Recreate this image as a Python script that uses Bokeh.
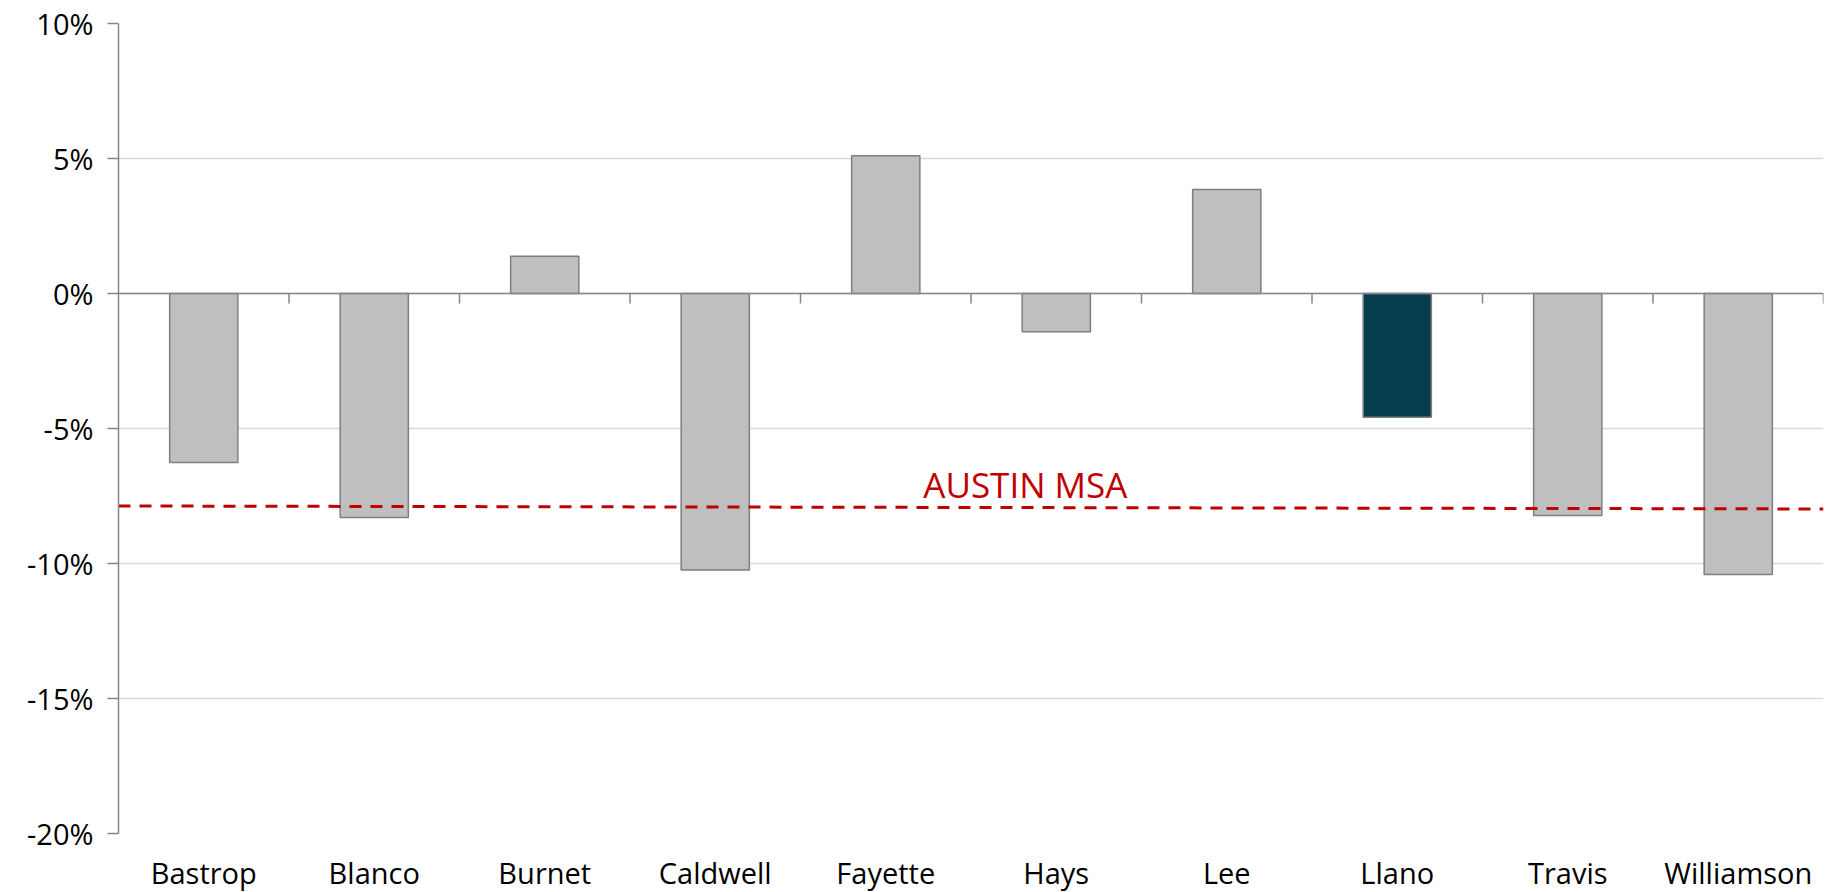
from bokeh.plotting import figure
from bokeh.models import Span, Label, FixedTicker, PrintfTickFormatter, Range1d
from bokeh.embed import file_html
from bokeh.resources import INLINE

# ---- data ----
counties = ["Bastrop", "Blanco", "Burnet", "Caldwell", "Fayette",
            "Hays", "Lee", "Llano", "Travis", "Williamson"]
change_pct = [-6.26, -8.30, 1.38, -10.24, 5.10, -1.42, 3.85, -4.58, -8.22, -10.41]
highlight = "Llano"
msa_label = "AUSTIN MSA"
msa_pct = [-7.87, -7.98]          # reference line, left end -> right end
y_ticks = [-20, -15, -10, -5, 0, 5, 10]

# ---- styles ----
FONT = "Open Sans"
GREY_FILL = "#BFBFBF"
GREY_LINE = "#7F7F7F"
DARK_FILL = "#063E50"
AXIS_COL = "#868686"
GRID_COL = "#D9D9D9"
RED = "#C00000"

n = len(counties)
centers = [i + 0.5 for i in range(n)]
fills = [DARK_FILL if c == highlight else GREY_FILL for c in counties]

p = figure(width=1828, height=910,
           x_range=Range1d(0, n), y_range=Range1d(y_ticks[0], y_ticks[-1]),
           output_backend="svg", toolbar_location=None,
           min_border_left=118, min_border_right=5,
           min_border_top=23, min_border_bottom=77)
p.styles = {"margin-bottom": "-30px"}
p.outline_line_color = None
p.background_fill_color = "white"
p.border_fill_color = "white"

# bars
p.vbar(x=centers, top=change_pct, bottom=0, width=0.4,
       fill_color=fills, line_color=GREY_LINE, line_width=1.5)

# zero axis line with category boundary ticks
p.add_layout(Span(location=0, dimension="width", line_color=AXIS_COL, line_width=1.5))
bounds = list(range(1, n + 1))
p.segment(x0=bounds, x1=bounds, y0=[0] * n, y1=[-0.37] * n,
          line_color=AXIS_COL, line_width=1.5)

# Austin MSA reference line
p.line(x=[0, n], y=msa_pct, line_color=RED, line_width=3, line_dash="12 9")
p.add_layout(Label(x=4.72, y=-7.08, text=msa_label, text_color=RED,
                   text_font=FONT, text_font_size="35px",
                   text_baseline="alphabetic", text_align="left"))

# y axis
yax = p.yaxis[0]
yax.ticker = FixedTicker(ticks=y_ticks)
yax.formatter = PrintfTickFormatter(format="%d%%")
yax.axis_line_color = AXIS_COL
yax.axis_line_width = 1.5
yax.major_tick_line_color = AXIS_COL
yax.major_tick_line_width = 1.5
yax.major_tick_out = 11
yax.major_tick_in = 0
yax.minor_tick_line_color = None
yax.major_label_standoff = 14
yax.major_label_text_font = FONT
yax.major_label_text_font_size = "29px"
yax.major_label_text_color = "black"

# x axis (labels only)
xax = p.xaxis[0]
xax.ticker = FixedTicker(ticks=centers)
xax.major_label_overrides = {c: name for c, name in zip(centers, counties)}
xax.axis_line_color = None
xax.major_tick_line_color = None
xax.minor_tick_line_color = None
xax.major_tick_out = 0
xax.major_tick_in = 0
xax.major_label_standoff = 19
xax.major_label_text_font = FONT
xax.major_label_text_font_size = "29px"
xax.major_label_text_color = "black"

# grids
p.xgrid.grid_line_color = None
p.ygrid.ticker = FixedTicker(ticks=y_ticks)
p.ygrid.grid_line_color = GRID_COL
p.ygrid.grid_line_width = 1.5

open("out.html", "w").write(file_html(p, INLINE))
